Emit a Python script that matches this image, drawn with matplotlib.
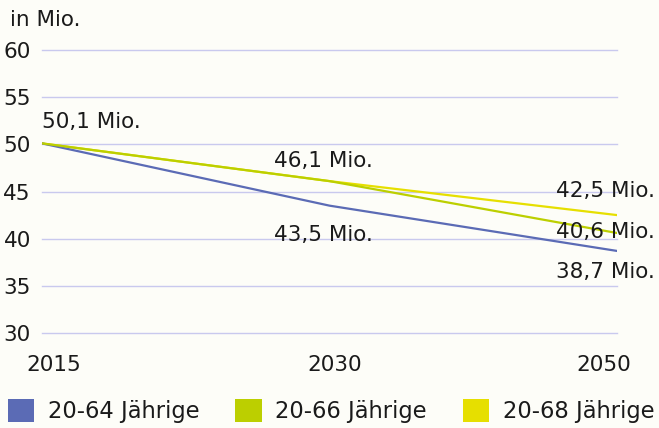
import matplotlib
matplotlib.use("Agg")
import matplotlib.pyplot as plt
from matplotlib.patches import Patch
from matplotlib.transforms import ScaledTranslation

# ── DATA ──────────────────────────────────────────────────────────────────────
years = ["2015", "2030", "2050"]
series_names = ["20-64 Jährige", "20-66 Jährige", "20-68 Jährige"]
age_64 = [50.1, 43.5, 38.7]
age_66 = [50.1, 46.1, 40.6]
age_68 = [50.1, 46.1, 42.5]
y_ticks = [30, 35, 40, 45, 50, 55, 60]

BG = "#fdfdf8"
BLUE = "#5b6bb5"
GREEN = "#bccf00"
YELLOW = "#e6df00"
GRID = "#c9c9ee"
TXT = "#1a1a1a"
FS = 15.5
LEG_FS = 16.3

plt.rcParams["font.family"] = ["DejaVu Sans"]

fig = plt.figure(figsize=(6.59, 4.28), dpi=100)
fig.patch.set_facecolor(BG)
ax = fig.add_axes([42 / 659, 1 - 333 / 428, (617 - 42) / 659, (333 - 50) / 428])
ax.set_facecolor(BG)

x = list(range(len(years)))
ax.plot(x, age_64, color=BLUE, lw=1.6, zorder=3)
ax.plot(x, age_66, color=GREEN, lw=1.6, zorder=4)
ax.plot(x, age_68, color=YELLOW, lw=1.6, zorder=2)

ax.set_xlim(0, 2)
ax.set_ylim(30, 60)
ax.set_yticks(y_ticks)
ax.set_yticklabels([str(t) for t in y_ticks], fontsize=FS, color=TXT)
ax.yaxis.grid(True, color=GRID, lw=1.0)
for gl in ax.get_ygridlines():
    gl.set_clip_on(False)
ax.set_xticks(x)
ax.set_xticklabels(years, fontsize=FS, color=TXT)
ax.tick_params(axis="both", length=0)
ax.tick_params(axis="y", pad=8)
ax.tick_params(axis="x", pad=16)
for s in ax.spines.values():
    s.set_visible(False)

# shift end tick labels inward
shifts = [12, 5, -13]
for lab, dx in zip(ax.get_xticklabels(), shifts):
    lab.set_transform(lab.get_transform() + ScaledTranslation(dx / 100, 0, fig.dpi_scale_trans))

# value annotations: (x index, value, dx px, dy px, ha)
notes = [
    (0, age_64[0], 0, 21, "left"),
    (1, age_66[1], -56, 20, "left"),
    (1, age_64[1], -56, -29, "left"),
    (2, age_68[2], 38, 24, "right"),
    (2, age_66[2], 38, 1, "right"),
    (2, age_64[2], 38, -21, "right"),
]
for xi, v, dx, dy, ha in notes:
    ax.annotate(f"{v:.1f} Mio.".replace(".", ",", 1), (xi, v),
                xytext=(dx, dy), textcoords="offset pixels",
                ha=ha, va="center", fontsize=FS, color=TXT,
                annotation_clip=False, zorder=6)

fig.text(10 / 659, 1 - 20 / 428, "in Mio.", fontsize=FS, color=TXT,
         ha="left", va="center")

handles = [Patch(facecolor=c, edgecolor="none") for c in (BLUE, GREEN, YELLOW)]
fig.legend(handles, series_names, loc="center left",
           bbox_to_anchor=(8 / 659, 1 - 411 / 428), ncol=3, frameon=False,
           fontsize=LEG_FS, handlelength=1.15, handleheight=1.15,
           handletextpad=0.6, columnspacing=1.6, borderpad=0,
           borderaxespad=0, labelcolor=TXT)

fig.savefig("out.png", dpi=100, facecolor=BG)
